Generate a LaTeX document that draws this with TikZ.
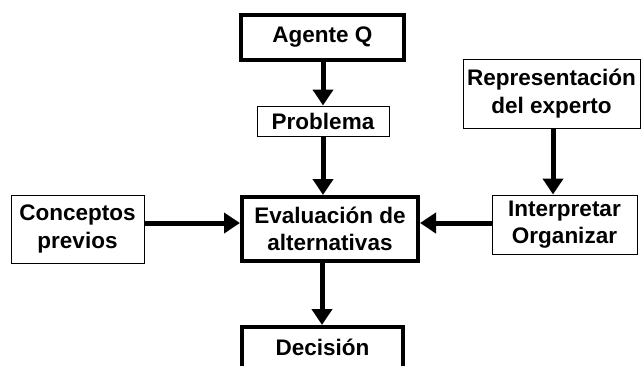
\documentclass[tikz,border=0pt]{standalone}
\usepackage{fontspec}
\setmainfont{Liberation Sans}
\usetikzlibrary{arrows.meta}
\begin{document}
\begin{tikzpicture}[x=1pt,y=-1pt,
  lbl/.style={font=\bfseries\fontsize{22.5}{27.5}\selectfont},
  thin box/.style={lbl, draw, line width=1pt, fill=white, align=center, inner sep=0pt},
  thick box/.style={lbl, draw, line width=4pt, fill=white, align=center, inner sep=0pt},
  conn/.style={line width=5pt, -{Triangle[width=20pt,length=16pt]}}]
\useasboundingbox (0,0) rectangle (641,365);
\begin{scope}
\clip (0,0) rectangle (641,365);
\node[thick box, minimum width=163pt, minimum height=45pt] (agente) at (322.5,37.5) {Agente Q};
\node[thin box, minimum width=132pt, minimum height=30pt] (problema) at (323,121) {Problema};
\node[thick box, minimum width=176pt, minimum height=64pt] (eval) at (330,229) {Evaluación de\\alternativas};
\node[thin box, minimum width=133pt, minimum height=68pt] (conceptos) at (77.5,229) {Conceptos\\previos};
\node[thin box, minimum width=177pt, minimum height=69pt] (repr) at (551.5,93.5) {Representación\\del experto};
\node[thin box, minimum width=145pt, minimum height=59pt] (interp) at (564.5,224.5) {Interpretar\\Organizar};
\node[thick box, minimum width=161pt, minimum height=70pt, anchor=north] (decision) at (322.5,325) {};
\node[lbl] (dectext) at (322.5,347) {Decisión};
\end{scope}
\draw[conn] (agente.south -| 323,0) -- (problema.north -| 323,0);
\draw[conn] (problema.south -| 323,0) -- (eval.north -| 323,0);
\draw[conn] (conceptos.east |- 0,223) -- (eval.west |- 0,223);
\draw[conn] (interp.west |- 0,223) -- (eval.east |- 0,223);
\draw[conn] (repr.south -| 553,0) -- (interp.north -| 553,0);
\draw[conn] (eval.south -| 322,0) -- (decision.north -| 322,0);
\end{tikzpicture}
\end{document}
